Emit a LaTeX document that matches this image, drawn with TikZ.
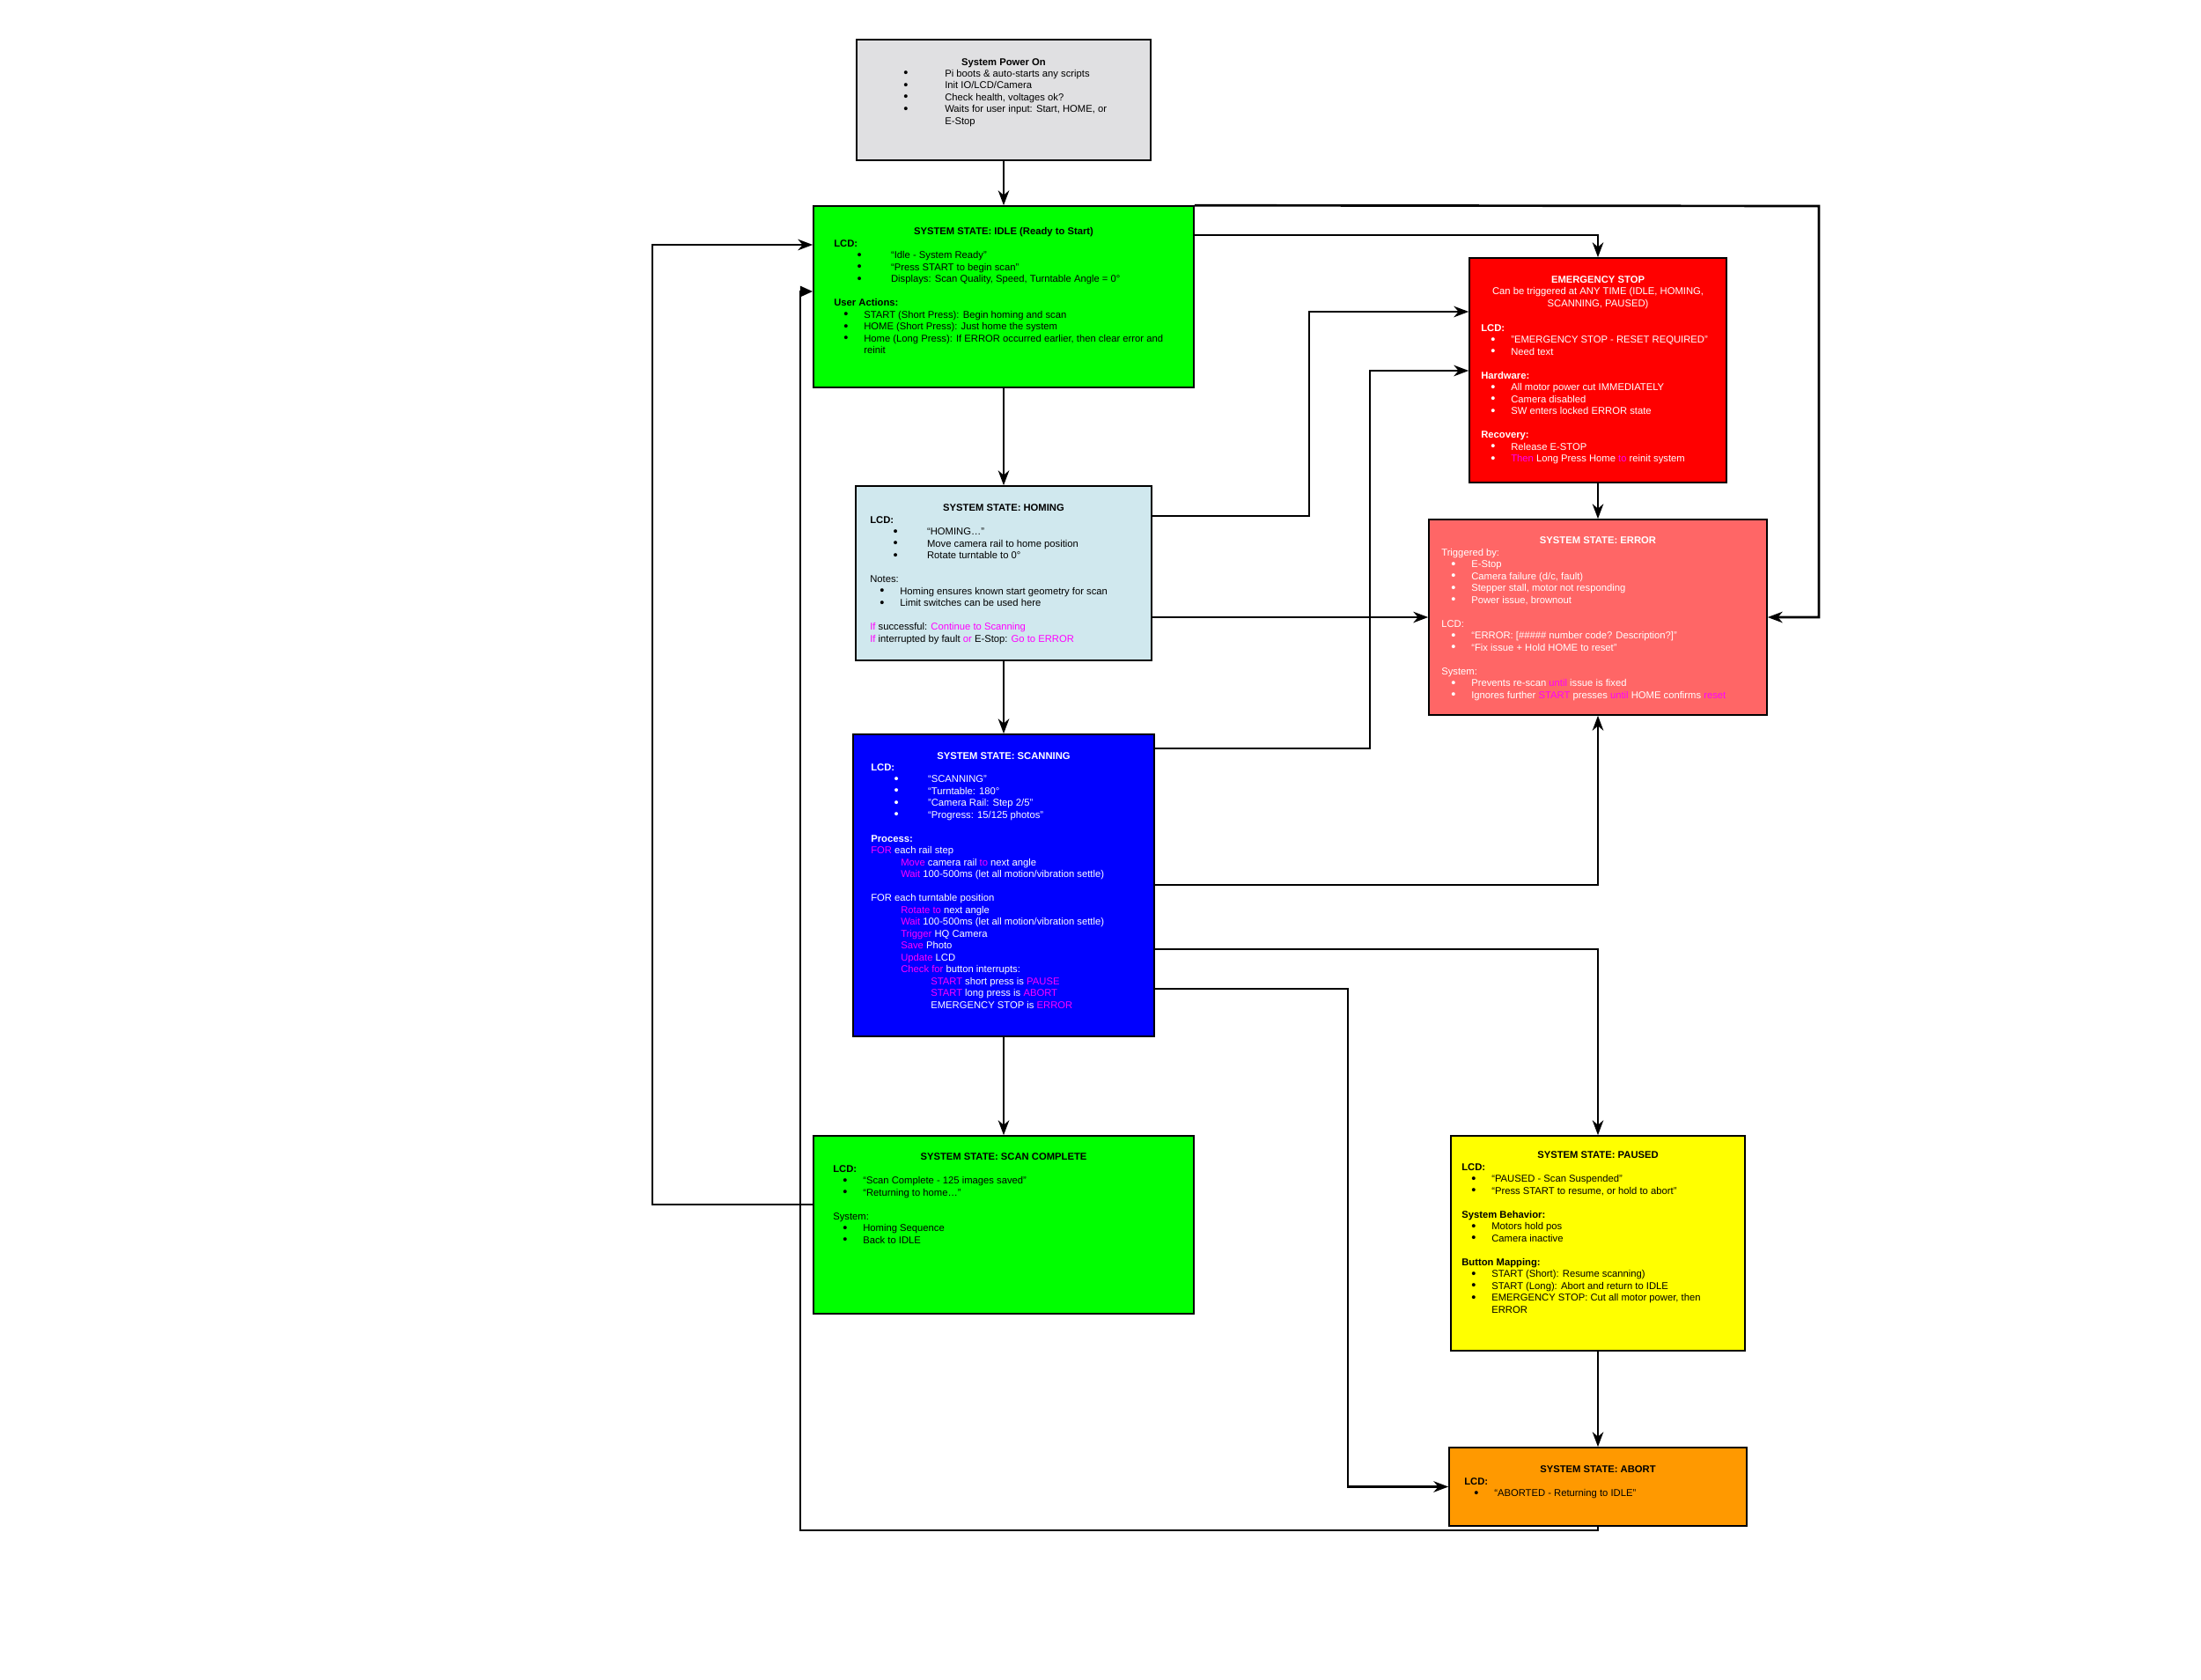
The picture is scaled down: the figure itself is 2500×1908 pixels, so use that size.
\documentclass[tikz,border=0pt]{standalone}
\usepackage{graphicx}
\usepackage{fontspec}
\setmainfont{Liberation Sans}
\usetikzlibrary{arrows.meta, fit}

\definecolor{pwrgray}{RGB}{224,224,226}
\definecolor{idlegreen}{RGB}{0,255,0}
\definecolor{homeblue}{RGB}{208,232,238}
\definecolor{scanblue}{RGB}{0,0,255}
\definecolor{stopred}{RGB}{255,0,0}
\definecolor{errred}{RGB}{255,102,102}
\definecolor{pauseyellow}{RGB}{255,255,0}
\definecolor{abortorange}{RGB}{255,153,0}
\definecolor{hilite}{RGB}{255,0,255}

\newcommand{\itm}[3]{\hspace*{#1}\rlap{\raisebox{-0.4pt}{\scalebox{1.3}{\textbullet}}}\hspace*{#2}#3}
\newcommand{\wideitem}[1]{\itm{6.6mm}{9.6mm}{#1}}
\newcommand{\narrowitem}[1]{\itm{2.75mm}{5.75mm}{#1}}
\newcommand{\mg}[1]{\textcolor{hilite}{#1}}

\begin{document}
\begin{tikzpicture}[x=0.25mm, y=-0.25mm,
		>={Stealth[length=4.2mm, width=3.1mm, inset=1.3mm]},
		box/.style={draw=black, line width=1.1pt, inner sep=0pt},
		txt/.style={inner sep=0pt, anchor=base west, align=left, font=\fontsize{8}{9.6}\selectfont},
		ttl/.style={inner sep=0pt, anchor=base, align=center, font=\fontsize{8}{9.6}\selectfont\bfseries},
		link/.style={->, line width=1.9pt}]
	\useasboundingbox (0,0) rectangle (2500,1908);
	\fill[white] (0,0) rectangle (2500,1908);

	% state boxes
	\node (pwr) [box, fill=pwrgray, fit={(973,45) (1307,182)}] {};
	\node (idle) [box, fill=idlegreen, fit={(924,234) (1356,440)}] {};
	\node (homing) [box, fill=homeblue, fit={(972,552) (1308,750)}] {};
	\node (scan) [box, fill=scanblue, fit={(969,834) (1311,1177)}] {};
	\node (done) [box, fill=idlegreen, fit={(924,1290) (1356,1492)}] {};
	\node (estop) [box, fill=stopred, fit={(1669,293) (1961,548)}] {};
	\node (error) [box, fill=errred, fit={(1623,590) (2007,812)}] {};
	\node (paused) [box, fill=pauseyellow, fit={(1648,1290) (1982,1534)}] {};
	\node (abort) [box, fill=abortorange, fit={(1646,1644) (1984,1733)}] {};

	% texts (multi-line nodes sit on their last baseline)
	\node (pwr-t) [ttl] at (1140,74) {System Power On};
	\node (pwr-x) [txt] at (1026,141) {\itm{0mm}{11.75mm}{Pi boots \& auto-starts any scripts}\\
		\itm{0mm}{11.75mm}{Init IO/LCD/Camera}\\
		\itm{0mm}{11.75mm}{Check health, voltages ok?}\\
		\itm{0mm}{11.75mm}{Waits for user input: Start, HOME, or}\\
		\hspace*{11.75mm}E-Stop};

	\node (idle-t) [ttl] at (1140,266) {SYSTEM STATE: IDLE (Ready to Start)};
	\node (idle-x) [txt] at (947,401.5) {\textbf{LCD:}\\
		\wideitem{“Idle - System Ready”}\\
		\wideitem{“Press START to begin scan”}\\
		\wideitem{Displays: Scan Quality, Speed, Turntable Angle = 0°}\\[9.6pt]
		\textbf{User Actions:}\\
		\narrowitem{START (Short Press): Begin homing and scan}\\
		\narrowitem{HOME (Short Press): Just home the system}\\
		\narrowitem{Home (Long Press): If ERROR occurred earlier, then clear error and}\\
		\hspace*{8.5mm}reinit};

	\node (homing-t) [ttl] at (1140,580) {SYSTEM STATE: HOMING};
	\node (homing-x) [txt] at (988,729) {\textbf{LCD:}\\
		\wideitem{“HOMING…”}\\
		\wideitem{Move camera rail to home position}\\
		\wideitem{Rotate turntable to 0°}\\[9.6pt]
		Notes:\\
		\narrowitem{Homing ensures known start geometry for scan}\\
		\narrowitem{Limit switches can be used here}\\[9.6pt]
		\mg{If} successful: \mg{Continue to Scanning}\\
		\mg{If} interrupted by fault \mg{or} E-Stop: \mg{Go to ERROR}};

	\node (scan-t) [ttl, text=white] at (1140,862) {SYSTEM STATE: SCANNING};
	\node (scan-x) [txt, text=white] at (989,1145) {\textbf{LCD:}\\
		\wideitem{“SCANNING”}\\
		\wideitem{“Turntable: 180°}\\
		\wideitem{"Camera Rail: Step 2/5"}\\
		\wideitem{“Progress: 15/125 photos”}\\[9.6pt]
		\textbf{Process:}\\
		\mg{FOR} each rail step\\
		\hspace*{8.5mm}\mg{Move} camera rail \mg{to} next angle\\
		\hspace*{8.5mm}\mg{Wait} 100-500ms (let all motion/vibration settle)\\[9.6pt]
		FOR each turntable position\\
		\hspace*{8.5mm}\mg{Rotate to} next angle\\
		\hspace*{8.5mm}\mg{Wait} 100-500ms (let all motion/vibration settle)\\
		\hspace*{8.5mm}\mg{Trigger} HQ Camera\\
		\hspace*{8.5mm}\mg{Save} Photo\\
		\hspace*{8.5mm}\mg{Update} LCD\\
		\hspace*{8.5mm}\mg{Check for} button interrupts:\\
		\hspace*{17mm}\mg{START} short press is \mg{PAUSE}\\
		\hspace*{17mm}\mg{START} long press is \mg{ABORT}\\
		\hspace*{17mm}EMERGENCY STOP is \mg{ERROR}};

	\node (done-t) [ttl] at (1140,1317) {SYSTEM STATE: SCAN COMPLETE};
	\node (done-x) [txt] at (946,1412) {\textbf{LCD:}\\
		\narrowitem{“Scan Complete - 125 images saved”}\\
		\narrowitem{“Returning to home…”}\\[9.6pt]
		System:\\
		\narrowitem{Homing Sequence}\\
		\narrowitem{Back to IDLE}};

	\node (estop-t) [ttl, text=white] at (1815,348) {EMERGENCY STOP\\
		{\mdseries Can be triggered at ANY TIME (IDLE, HOMING,}\\
		{\mdseries SCANNING, PAUSED)}};
	\node (estop-x) [txt, text=white] at (1682,524.5) {\textbf{LCD:}\\
		\narrowitem{"EMERGENCY STOP - RESET REQUIRED"}\\
		\narrowitem{Need text}\\[9.6pt]
		\textbf{Hardware:}\\
		\narrowitem{All motor power cut IMMEDIATELY}\\
		\narrowitem{Camera disabled}\\
		\narrowitem{SW enters locked ERROR state}\\[9.6pt]
		\textbf{Recovery:}\\
		\narrowitem{Release E-STOP}\\
		\narrowitem{\mg{Then} Long Press Home \mg{to} reinit system}};

	\node (error-t) [ttl, text=white] at (1815,617) {SYSTEM STATE: ERROR};
	\node (error-x) [txt, text=white] at (1637,793) {Triggered by:\\
		\narrowitem{E-Stop}\\
		\narrowitem{Camera failure (d/c, fault)}\\
		\narrowitem{Stepper stall, motor not responding}\\
		\narrowitem{Power issue, brownout}\\[9.6pt]
		LCD:\\
		\narrowitem{“ERROR: [\#\#\#\#\# number code? Description?]”}\\
		\narrowitem{“Fix issue + Hold HOME to reset”}\\[9.6pt]
		System:\\
		\narrowitem{Prevents re-scan \mg{until} issue is fixed}\\
		\narrowitem{Ignores further \mg{START} presses \mg{until} HOME confirms \mg{reset}}};

	\node (paused-t) [ttl] at (1815,1315) {SYSTEM STATE: PAUSED};
	\node (paused-x) [txt] at (1660,1491) {\textbf{LCD:}\\
		\narrowitem{“PAUSED - Scan Suspended”}\\
		\narrowitem{“Press START to resume, or hold to abort”}\\[9.6pt]
		\textbf{System Behavior:}\\
		\narrowitem{Motors hold pos}\\
		\narrowitem{Camera inactive}\\[9.6pt]
		\textbf{Button Mapping:}\\
		\narrowitem{START (Short): Resume scanning)}\\
		\narrowitem{START (Long): Abort and return to IDLE}\\
		\narrowitem{EMERGENCY STOP: Cut all motor power, then}\\
		\hspace*{8.5mm}ERROR};

	\node (abort-t) [ttl] at (1815,1672) {SYSTEM STATE: ABORT};
	\node (abort-x) [txt] at (1663,1699.5) {\textbf{LCD:}\\
		\narrowitem{“ABORTED - Returning to IDLE”}};

	% bend points
	\coordinate (eA) at (1400,267);
	\coordinate (fA) at (2066,234);
	\coordinate (gA) at (1487,586);
	\coordinate (gB) at (1487,354);
	\coordinate (hA) at (1556,850);
	\coordinate (hB) at (1556,421);
	\coordinate (kA) at (1400,1005);
	\coordinate (lA) at (1400,1078);
	\coordinate (mA) at (1531,1123);
	\coordinate (oA) at (909,1738);
	\coordinate (oB) at (909,331);
	\coordinate (pA) at (741,1368);
	\coordinate (pB) at (741,278);

	% connectors
	\foreach \a/\b in {pwr/idle, idle/homing, homing/scan, scan/done, estop/error, paused/abort} {
			\draw[link] (\a) -- (\b);
		}
	\draw[link] (idle.east |- eA) -| (estop.north);
	\draw[link] (idle.north east) -- (fA) |- (error.east);
	\draw[link] (homing.east |- gA) -- (gA) |- (estop.west |- gB);
	\draw[link] (scan.east |- hA) -- (hA) |- (estop.west |- hB);
	\draw[link] (homing.east |- error.west) -- (error.west);
	\draw[link] (scan.east |- kA) -| (error.south);
	\draw[link] (scan.east |- lA) -| (paused.north);
	\draw[link] (scan.east |- mA) -- (mA) |- (abort.west);
	\draw[link, -{Triangle[length=3.6mm, width=3mm]}] (abort.south) |- (oA) |- (idle.west |- oB);
	\draw[link] (done.west |- pA) -- (pA) -- (pB) -- (idle.west |- pB);
\end{tikzpicture}
\end{document}
